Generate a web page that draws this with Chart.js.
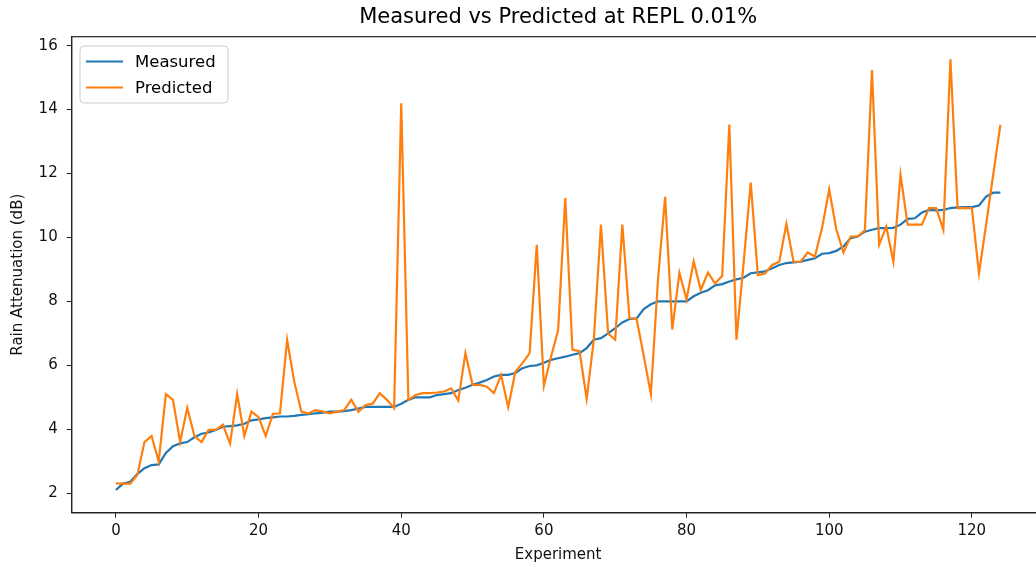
<!DOCTYPE html>
<html>
<head>
<meta charset="utf-8">
<script src="https://cdn.jsdelivr.net/npm/chart.js@4"></script>
<style>
  html, body { margin: 0; padding: 0; background: #fff; overflow: hidden; }
  #wrap { width: 1036px; height: 568px; overflow: hidden; }
</style>
</head>
<body>
<div id="wrap"><canvas id="chart" width="1060" height="568"></canvas></div>
<script>
const chartTitle = 'Measured vs Predicted at REPL 0.01%';
const seriesNames = ['Measured', 'Predicted'];
const xTicks = [0, 20, 40, 60, 80, 100, 120];
const yTicks = [2, 4, 6, 8, 10, 12, 14, 16];

const measured = [
  2.1, 2.3, 2.36, 2.6, 2.78, 2.88, 2.9, 3.26, 3.47, 3.56,
  3.6, 3.75, 3.86, 3.9, 3.98, 4.08, 4.1, 4.12, 4.17, 4.28,
  4.31, 4.35, 4.37, 4.4, 4.4, 4.42, 4.45, 4.47, 4.5, 4.52,
  4.55, 4.55, 4.57, 4.6, 4.65, 4.7, 4.7, 4.7, 4.7, 4.7,
  4.8, 4.92, 5.0, 5.0, 5.0, 5.07, 5.1, 5.13, 5.23, 5.3,
  5.39, 5.46, 5.54, 5.65, 5.7, 5.7, 5.76, 5.91, 5.98, 6.0,
  6.08, 6.17, 6.22, 6.27, 6.33, 6.38, 6.54, 6.8, 6.85, 7.0,
  7.16, 7.34, 7.45, 7.47, 7.76, 7.91, 8.0, 8.0, 8.0, 8.0,
  8.0, 8.16, 8.27, 8.35, 8.5, 8.54, 8.62, 8.69, 8.74, 8.88,
  8.91, 8.94, 9.04, 9.14, 9.2, 9.22, 9.24, 9.3, 9.35, 9.49,
  9.51, 9.58, 9.72, 9.98, 10.03, 10.18, 10.24, 10.29, 10.29, 10.3,
  10.4, 10.58, 10.6, 10.78, 10.86, 10.85, 10.86, 10.92, 10.94, 10.95,
  10.95, 11.0, 11.28, 11.4, 11.4
];

const predicted = [
  2.31, 2.3, 2.3, 2.57, 3.6, 3.79, 2.99, 5.1, 4.92, 3.6,
  4.67, 3.79, 3.6, 3.98, 3.98, 4.14, 3.55, 5.1, 3.79, 4.55,
  4.38, 3.79, 4.48, 4.5, 6.8, 5.49, 4.55, 4.5, 4.6, 4.55,
  4.5, 4.55, 4.6, 4.92, 4.55, 4.76, 4.8, 5.13, 4.92, 4.66,
  14.2, 4.92, 5.07, 5.13, 5.13, 5.15, 5.18, 5.28, 4.9, 6.38,
  5.39, 5.39, 5.33, 5.13, 5.7, 4.69, 5.8, 6.07, 6.38, 9.77,
  5.36, 6.27, 7.1, 11.23, 6.49, 6.44, 4.95, 6.8, 10.4, 7.0,
  6.8, 10.4, 7.48, 7.45, 6.3, 5.1, 8.7, 11.27, 7.12, 8.9,
  8.06, 9.25, 8.36, 8.9, 8.56, 8.8, 13.53, 6.8, 9.2, 11.72,
  8.82, 8.87, 9.14, 9.24, 10.42, 9.24, 9.24, 9.53, 9.4, 10.3,
  11.5, 10.25, 9.53, 10.03, 10.03, 10.22, 15.24, 9.77, 10.34, 9.24,
  11.96, 10.4, 10.4, 10.4, 10.92, 10.92, 10.24, 15.57, 10.92, 10.92,
  10.92, 8.88, 10.4, 11.97, 13.52
];

const colors = ['#1f77b4', '#ff7f0e'];
const font = 'DejaVu Sans';

function toPoints(values) {
  return values.map((v, i) => ({ x: i, y: v }));
}

// title centred over the plot area (the plot runs past the right edge)
const plotTitle = {
  id: 'plotTitle',
  afterDraw(chart) {
    const a = chart.chartArea;
    const ctx = chart.ctx;
    ctx.save();
    ctx.font = '21px "' + font + '"';
    ctx.fillStyle = '#000';
    ctx.textAlign = 'center';
    ctx.textBaseline = 'middle';
    ctx.fillText(chartTitle, (a.left + a.right) / 2, 18);
    ctx.restore();
  }
};

// legend box inside the plot, top left, like matplotlib
const innerLegend = {
  id: 'innerLegend',
  afterDraw(chart) {
    const ctx = chart.ctx;
    const x = 80, y = 46, w = 148, h = 57, r = 4;
    ctx.save();
    ctx.beginPath();
    ctx.moveTo(x + r, y);
    ctx.arcTo(x + w, y, x + w, y + h, r);
    ctx.arcTo(x + w, y + h, x, y + h, r);
    ctx.arcTo(x, y + h, x, y, r);
    ctx.arcTo(x, y, x + w, y, r);
    ctx.closePath();
    ctx.fillStyle = 'rgba(255,255,255,0.8)';
    ctx.fill();
    ctx.strokeStyle = '#cccccc';
    ctx.lineWidth = 1;
    ctx.stroke();
    const rows = [61.5, 87.5];
    ctx.font = '16.5px "' + font + '"';
    ctx.textBaseline = 'middle';
    ctx.fillStyle = '#000';
    for (let i = 0; i < seriesNames.length; i++) {
      ctx.beginPath();
      ctx.moveTo(86, rows[i]);
      ctx.lineTo(123, rows[i]);
      ctx.strokeStyle = colors[i];
      ctx.lineWidth = 2.2;
      ctx.stroke();
      ctx.fillText(seriesNames[i], 135, rows[i] + 1);
    }
    ctx.restore();
  }
};

// top and right spines
const frame = {
  id: 'frame',
  afterDraw(chart) {
    const a = chart.chartArea;
    const ctx = chart.ctx;
    ctx.save();
    ctx.strokeStyle = '#222';
    ctx.lineWidth = 1.2;
    ctx.strokeRect(a.left, a.top, a.right - a.left, a.bottom - a.top);
    ctx.restore();
  }
};

new Chart('chart', {
  type: 'line',
  data: {
    datasets: [
      {
        label: seriesNames[0],
        data: toPoints(measured),
        borderColor: colors[0],
        backgroundColor: colors[0],
        borderWidth: 2.2,
        pointRadius: 0,
        tension: 0,
        order: 1
      },
      {
        label: seriesNames[1],
        data: toPoints(predicted),
        borderColor: colors[1],
        backgroundColor: colors[1],
        borderWidth: 2.2,
        pointRadius: 0,
        tension: 0,
        order: 0
      }
    ]
  },
  options: {
    responsive: false,
    animation: false,
    layout: { padding: { left: 0, right: 15.4, top: 36.7, bottom: 0 } },
    plugins: {
      legend: { display: false },
      tooltip: { enabled: false },
      title: { display: false }
    },
    scales: {
      x: {
        type: 'linear',
        min: -6.2,
        max: 130.2,
        afterBuildTicks: s => { s.ticks = xTicks.map(v => ({ value: v })); },
        afterFit: s => { s.height = 55.3; },
        grid: { drawOnChartArea: false, drawTicks: true, tickLength: 5, tickColor: '#222', tickWidth: 1 },
        border: { display: true, color: '#222', width: 1.2 },
        ticks: { color: '#111', font: { family: font, size: 15 }, padding: 4, maxRotation: 0 },
        title: { display: true, text: 'Experiment', color: '#111', font: { family: font, size: 15 }, padding: { top: 0, bottom: 4 } }
      },
      y: {
        type: 'linear',
        min: 1.39,
        max: 16.28,
        afterBuildTicks: s => { s.ticks = yTicks.map(v => ({ value: v })); },
        afterFit: s => { s.width = 71.7; },
        grid: { drawOnChartArea: false, drawTicks: true, tickLength: 5, tickColor: '#222', tickWidth: 1 },
        border: { display: true, color: '#222', width: 1.2 },
        ticks: { color: '#111', font: { family: font, size: 15 }, padding: 9 },
        title: { display: true, text: 'Rain Attenuation (dB)', color: '#111', font: { family: font, size: 15 }, padding: { top: 9, bottom: 0 } }
      }
    }
  },
  plugins: [plotTitle, innerLegend, frame]
});
</script>
</body>
</html>
